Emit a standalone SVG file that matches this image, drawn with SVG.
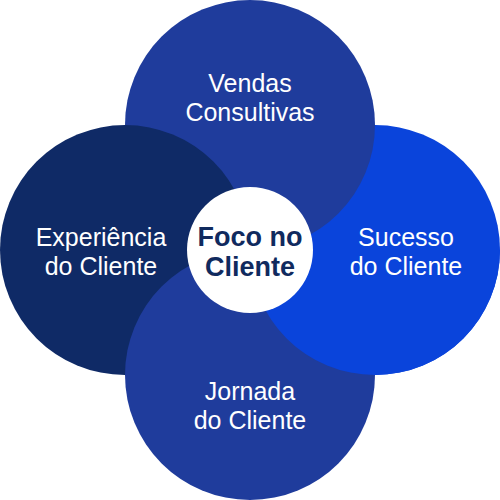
<svg xmlns="http://www.w3.org/2000/svg" width="500" height="500" viewBox="0 0 500 500">
<defs>
<style>
.lbl{font-family:"Liberation Sans",Arial,sans-serif;font-size:25px;fill:#ffffff;text-anchor:middle}
.ctr{font-family:"Liberation Sans",Arial,sans-serif;font-size:27px;font-weight:bold;fill:#102a5e;text-anchor:middle}
.top{fill:#1f3c9c}
.left{fill:#0f2a66}
.right{fill:#0a44db}
.bottom{fill:#1f3c9c}
</style>
<clipPath id="lowerRight"><rect x="250" y="250" width="250" height="250"/></clipPath>
</defs>
<rect width="500" height="500" fill="#ffffff"/>
<g id="shapes">
<circle class="right" cx="375" cy="250" r="125"/>
<circle class="top" cx="250" cy="125" r="125"/>
<circle class="left" cx="125" cy="250" r="125"/>
<circle class="bottom" cx="250" cy="375" r="125"/>
<circle class="right" cx="375" cy="250" r="125" clip-path="url(#lowerRight)"/>
</g>
<g id="connectors"></g>
<g id="node-top">
<text class="lbl" x="250" y="92">Vendas</text>
<text class="lbl" x="250" y="121">Consultivas</text>
</g>
<g id="node-left">
<text class="lbl" x="101" y="246">Experiência</text>
<text class="lbl" x="101" y="275">do Cliente</text>
</g>
<g id="node-right">
<text class="lbl" x="406" y="246">Sucesso</text>
<text class="lbl" x="406" y="275">do Cliente</text>
</g>
<g id="node-bottom">
<text class="lbl" x="250" y="400">Jornada</text>
<text class="lbl" x="250" y="429">do Cliente</text>
</g>
<g id="node-center">
<circle cx="250" cy="250" r="63" fill="#ffffff"/>
<text class="ctr" x="250" y="246">Foco no</text>
<text class="ctr" x="250" y="276">Cliente</text>
</g>
</svg>
